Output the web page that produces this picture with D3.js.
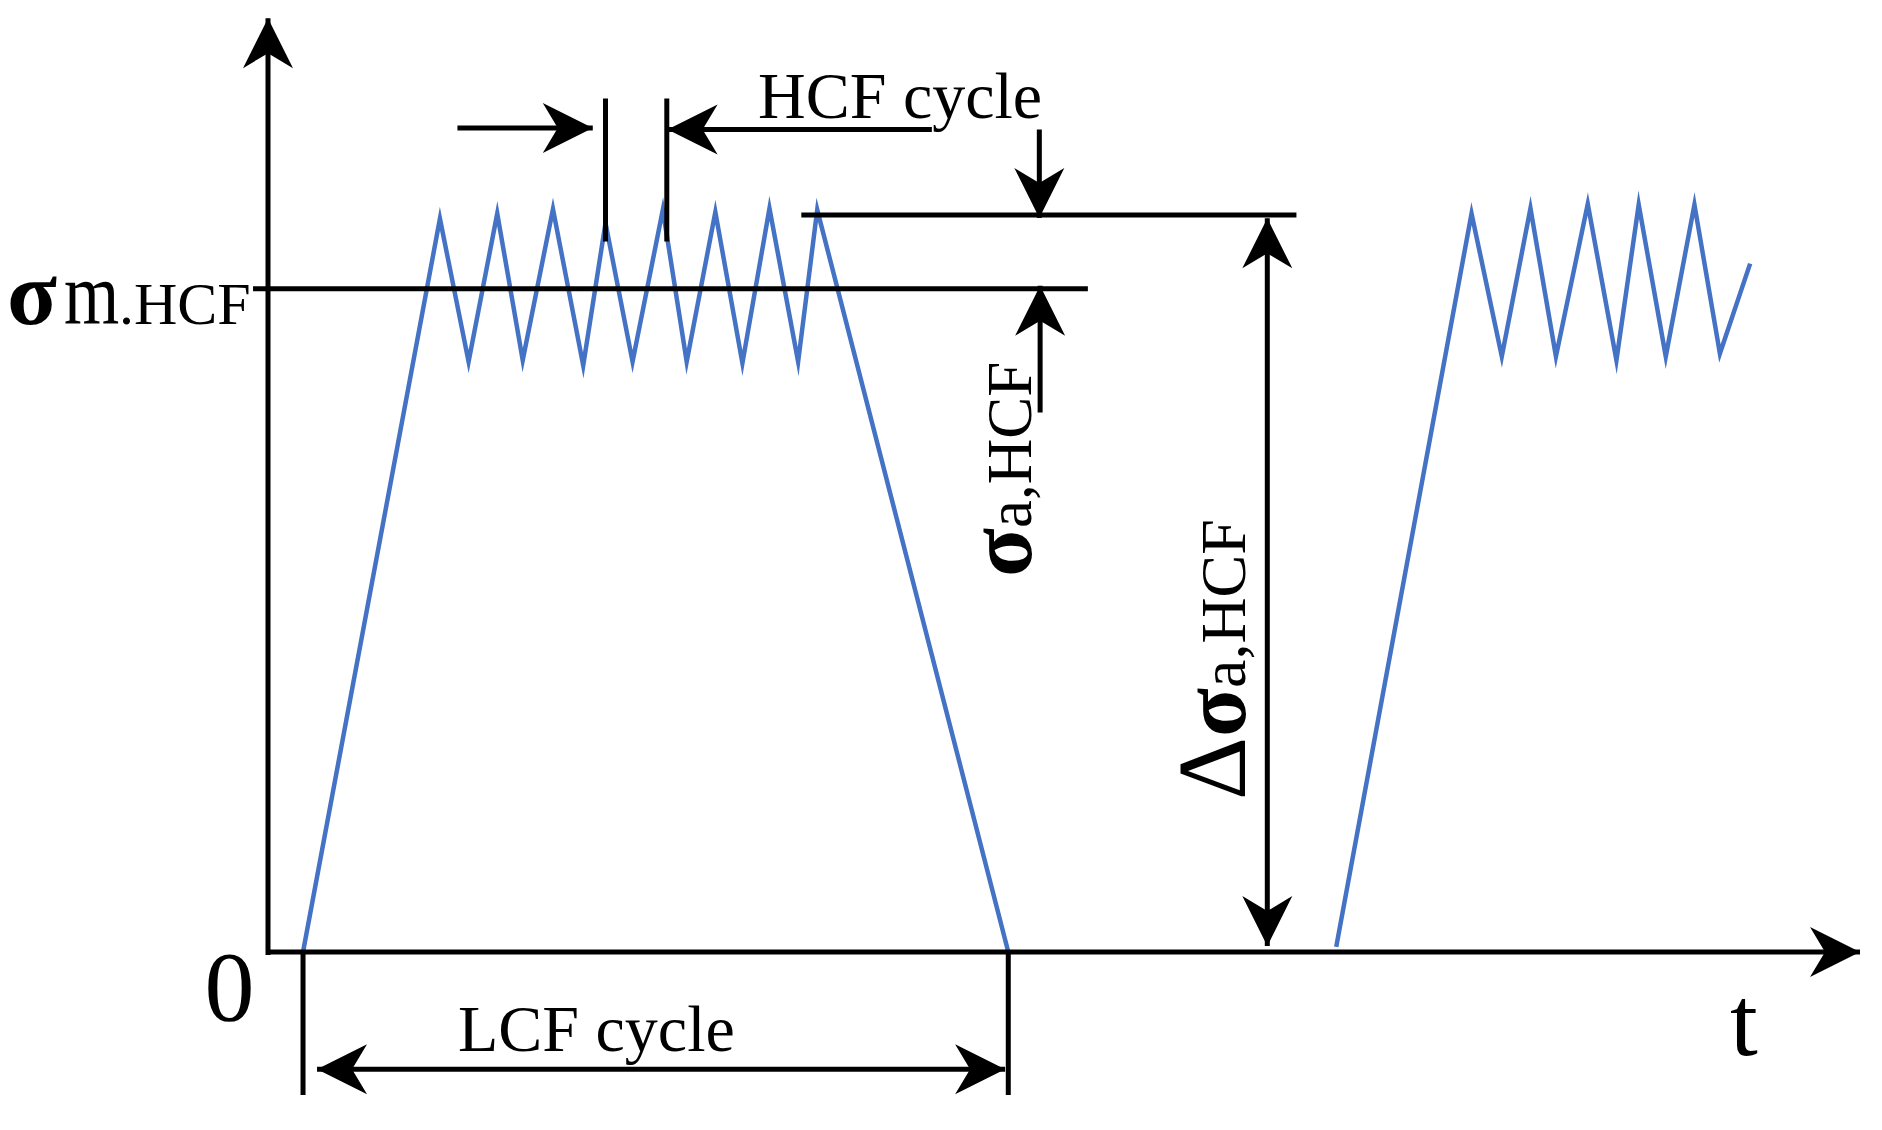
<!DOCTYPE html>
<html>
<head>
<meta charset="utf-8">
<script src="https://cdn.jsdelivr.net/npm/d3@7"></script>
<style>
  body { margin: 0; background: #fff; }
  svg { display: block; }
  text { font-family: "Liberation Serif", "Times New Roman", serif; fill: #000; }
</style>
</head>
<body>
<script>
// --- data (t in time units, stress as % of the peak) ---
const firstBlockT      = [2.2, 10.8, 12.6, 14.4, 16.0, 17.9, 19.8, 21.2, 22.9, 24.8, 26.3, 28.1, 29.8, 31.5, 33.3, 34.5, 46.5];
const firstBlockStress = [0, 99.5, 80.1, 100.2, 80.3, 100.8, 79.6, 98.9, 80.1, 100.7, 80.1, 100.4, 79.9, 100.9, 80.1, 100.7, 0];
const secondBlockT      = [67.1, 75.6, 77.5, 79.3, 80.9, 82.9, 84.7, 86.1, 87.8, 89.6, 91.2, 93.1];
const secondBlockStress = [0.7, 100.2, 80.8, 100.9, 80.8, 101.5, 80.3, 101.4, 80.8, 101.4, 81.2, 93.4];

const meanStress = 90;
const peakStress = 100;
const lcfStart = 2.2, lcfEnd = 46.5;
const hcfStart = 21.2, hcfEnd = 25.05;

// guide lines [[t0, s0], [t1, s1]]
const guideLines = [
    [[-0.94, meanStress], [51.5, meanStress]],      // sigma m line
    [[33.5, peakStress], [64.6, peakStress]],       // peak line
    [[hcfStart, 96.4], [hcfStart, 115.8]],
    [[hcfEnd, 96.4], [hcfEnd, 115.8]],
    [[lcfStart, 0], [lcfStart, -19.4]],
    [[lcfEnd, 0], [lcfEnd, -19.4]]
];

// arrows: from -> to (head at "to"), both = heads at both ends
const arrowList = [
    { from: [0, -0.4], to: [0, 126.7] },            // stress axis
    { from: [0, 0], to: [100, 0] },                 // time axis
    { from: [11.9, 111.8], to: [20.4, 111.8] },     // HCF cycle, left
    { from: [41.7, 111.6], to: [25.1, 111.6] },     // HCF cycle, right
    { from: [48.45, 111.6], to: [48.45, 99.6] },    // amplitude, top
    { from: [48.5, 73.2], to: [48.5, 90.4] },       // amplitude, bottom
    { from: [62.77, 0.8], to: [62.77, 99.55], both: true },   // delta sigma
    { from: [3.08, -15.9], to: [46.3, -15.9], both: true }    // LCF cycle
];

// --- setup ---
const W = 1882, H = 1130;
const BLUE = '#4472c4';
const LINE_W = 5, BLUE_W = 4.5;
const HEAD_LEN = 50, HEAD_HALF = 25, HEAD_NOTCH = 35;

const x = d3.scaleLinear().domain([0, 100]).range([268, 1860]);
const y = d3.scaleLinear().domain([0, 100]).range([952, 215]);

const svg = d3.select('body').append('svg').attr('width', W).attr('height', H);

const line = d3.line().x(d => x(d[0])).y(d => y(d[1]));

// loading curves
const blocks = [
    d3.zip(firstBlockT, firstBlockStress),
    d3.zip(secondBlockT, secondBlockStress)
];
svg.append('g').selectAll('path')
    .data(blocks)
    .join('path')
    .attr('d', line)
    .attr('fill', 'none')
    .attr('stroke', BLUE)
    .attr('stroke-width', BLUE_W)
    .attr('stroke-linejoin', 'miter')
    .attr('stroke-miterlimit', 20);

// guide lines
svg.append('g').selectAll('path')
    .data(guideLines)
    .join('path')
    .attr('d', line)
    .attr('stroke', '#000')
    .attr('stroke-width', LINE_W);

// arrows
function headPoints(tip, back) {
    const dx = tip[0] - back[0], dy = tip[1] - back[1];
    const len = Math.hypot(dx, dy);
    const ux = dx / len, uy = dy / len, nx = -uy, ny = ux;
    const bx = tip[0] - ux * HEAD_LEN, by = tip[1] - uy * HEAD_LEN;
    return [
        [tip[0], tip[1]],
        [bx + nx * HEAD_HALF, by + ny * HEAD_HALF],
        [tip[0] - ux * HEAD_NOTCH, tip[1] - uy * HEAD_NOTCH],
        [bx - nx * HEAD_HALF, by - ny * HEAD_HALF]
    ].map(p => p.join(',')).join(' ');
}

const arrowG = svg.append('g');
arrowList.forEach(a => {
    const p0 = [x(a.from[0]), y(a.from[1])];
    const p1 = [x(a.to[0]), y(a.to[1])];
    arrowG.append('line')
        .attr('x1', p0[0]).attr('y1', p0[1])
        .attr('x2', p1[0]).attr('y2', p1[1])
        .attr('stroke', '#000').attr('stroke-width', LINE_W);
    arrowG.append('polygon').attr('points', headPoints(p1, p0)).attr('fill', '#000');
    if (a.both) arrowG.append('polygon').attr('points', headPoints(p0, p1)).attr('fill', '#000');
});

// --- labels ---
const labels = svg.append('g');

labels.append('text').attr('x', 758).attr('y', 118).attr('font-size', 66).text('HCF cycle');
labels.append('text').attr('x', 458).attr('y', 1051).attr('font-size', 66).text('LCF cycle');
labels.append('text').attr('x', 229.5).attr('y', 1020).attr('font-size', 100)
    .attr('text-anchor', 'middle').text('0');
labels.append('text').attr('x', 1744).attr('y', 1055).attr('font-size', 100)
    .attr('text-anchor', 'middle').text('t');

// sigma m.HCF
labels.append('text').attr('x', 7).attr('y', 324).attr('font-size', 92)
    .attr('font-weight', 'bold').text('σ');
labels.append('text').attr('transform', 'translate(64,324) scale(1,1.25)')
    .attr('font-size', 71).text('m');
labels.append('text').attr('x', 119).attr('y', 324).attr('font-size', 60).text('.');
labels.append('text').attr('x', 134).attr('y', 324).attr('font-size', 60).text('HCF');

// sigma a,HCF (vertical)
const sa = labels.append('text')
    .attr('transform', 'translate(1031,577) rotate(-90)');
sa.append('tspan').attr('font-size', 90).attr('font-weight', 'bold').text('σ');
sa.append('tspan').attr('font-size', 63).text('a,HCF');

// delta sigma a,HCF (vertical)
const dsa = labels.append('text')
    .attr('transform', 'translate(1245,800) rotate(-90)');
dsa.append('tspan').attr('font-size', 98).text('Δ');
dsa.append('tspan').attr('font-size', 90).attr('font-weight', 'bold').text('σ');
dsa.append('tspan').attr('font-size', 64).text('a,HCF');
</script>
</body>
</html>
